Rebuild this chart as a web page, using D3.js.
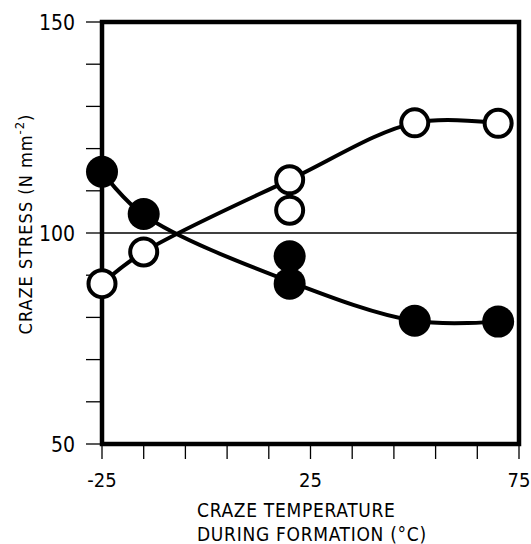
<!DOCTYPE html>
<html>
<head>
<meta charset="utf-8">
<script src="https://cdn.jsdelivr.net/npm/d3@7"></script>
<style>
body{margin:0;background:#fff}
text{font-family:"DejaVu Sans Condensed","DejaVu Sans",sans-serif;fill:#000}
</style>
</head>
<body>
<div id="chart"></div>
<script>
// temperatura de formación (°C) y tensión (N mm^-2)
var tempLlenos=[-25,-15,20,20,50,70]
var esfLlenos=[114.5,104.5,94.5,88,79.2,79]
var tempAbiertos=[-25,-15,20,20,50,70]
var esfAbiertos=[88,95.5,112.6,105.4,126.1,126]
// puntos por donde pasan las curvas suavizadas
var curvaLlenosX=[-25,-15,20,50,70]
var curvaLlenosY=[114.5,104.3,88.5,79.2,79]
var curvaAbiertosX=[-25,-15,20,50,70]
var curvaAbiertosY=[88,95.5,112.6,126.1,126]
var ticksX=[-25,-15,-5,5,15,25,35,45,55,65,75]
var etiquetasX=[-25,25,75]
var ticksY=[50,60,70,80,90,100,110,120,130,140,150]
var etiquetasY=[50,100,150]

var margin={top:22,left:102,right:12,bottom:100}
var ancho=519-margin.left
var alto=444-margin.top

var svg=d3.select("#chart").append("svg")
	.attr("width",531).attr("height",544)
var g=svg.append("g").attr("transform","translate("+margin.left+","+margin.top+")")

var x=d3.scaleLinear().domain([-25,75]).range([0,ancho])
var y=d3.scaleLinear().domain([50,150]).range([alto,0])

// línea de referencia en 100
g.append("line")
	.attr("x1",0).attr("x2",ancho)
	.attr("y1",y(100)).attr("y2",y(100))
	.style("stroke","#000").style("stroke-width",1.3)

// marcas de ejes
g.selectAll(".ty").data(ticksY).enter().append("line")
	.attr("x1",-16).attr("x2",0)
	.attr("y1",d=>y(d)).attr("y2",d=>y(d))
	.style("stroke","#000").style("stroke-width",1.3)
g.selectAll(".tx").data(ticksX).enter().append("line")
	.attr("x1",d=>x(d)).attr("x2",d=>x(d))
	.attr("y1",alto).attr("y2",alto+15)
	.style("stroke","#000").style("stroke-width",1.3)

g.selectAll(".ly").data(etiquetasY).enter().append("text")
	.attr("x",-27).attr("y",d=>y(d)+8)
	.attr("text-anchor","end").style("font-size","21px")
	.text(d=>d)
g.selectAll(".lx").data(etiquetasX).enter().append("text")
	.attr("x",d=>x(d)).attr("y",alto+43)
	.attr("text-anchor","middle").style("font-size","20px")
	.text(d=>d<0?"-"+Math.abs(d):d)

// marco
g.append("rect")
	.attr("width",ancho).attr("height",alto)
	.style("fill","none").style("stroke","#000").style("stroke-width",4.5)

// curvas
var linea=d3.line().x(d=>x(d[0])).y(d=>y(d[1])).curve(d3.curveCatmullRom)
g.append("path")
	.datum(d3.zip(curvaLlenosX,curvaLlenosY))
	.attr("d",linea)
	.style("fill","none").style("stroke","#000").style("stroke-width",4)
g.append("path")
	.datum(d3.zip(curvaAbiertosX,curvaAbiertosY))
	.attr("d",linea)
	.style("fill","none").style("stroke","#000").style("stroke-width",4)

// puntos
g.selectAll(".abiertos").data(d3.zip(tempAbiertos,esfAbiertos)).enter().append("circle")
	.attr("cx",d=>x(d[0])).attr("cy",d=>y(d[1])).attr("r",13.5)
	.style("fill","#fff").style("stroke","#000").style("stroke-width",4)
g.selectAll(".llenos").data(d3.zip(tempLlenos,esfLlenos)).enter().append("circle")
	.attr("cx",d=>x(d[0])).attr("cy",d=>y(d[1])).attr("r",16)
	.style("fill","#000")

// títulos de ejes
svg.append("text")
	.attr("transform","translate(32,224) rotate(-90)")
	.attr("text-anchor","middle").style("font-size","18px").style("letter-spacing","1px")
	.html('CRAZE STRESS  (N mm<tspan dy="-8" font-size="13">-2</tspan><tspan dy="8">)</tspan>')
svg.append("text")
	.attr("x",197).attr("y",517).style("font-size","19px").style("letter-spacing","0.7px")
	.text("CRAZE TEMPERATURE")
svg.append("text")
	.attr("x",197).attr("y",541).style("font-size","19px").style("letter-spacing","0.7px")
	.text("DURING FORMATION (°C)")
</script>
</body>
</html>
